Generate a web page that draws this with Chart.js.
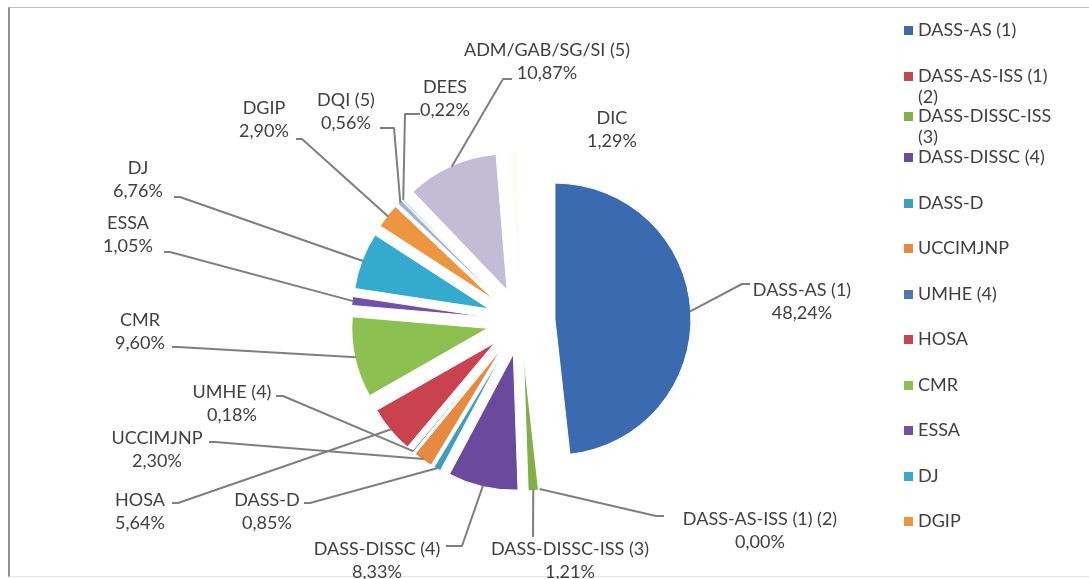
<!DOCTYPE html>
<html>
<head>
<meta charset="utf-8">
<title>Répartition par service</title>
<script src="https://cdn.jsdelivr.net/npm/chart.js@4.4.1/dist/chart.umd.min.js"></script>
<style>
  html, body { margin: 0; padding: 0; background: #fff; }
  #wrap { position: relative; width: 1089px; height: 579px; overflow: hidden; }
  #frame {
    position: absolute; left: 8px; top: 7px; width: 1200px; height: 568px;
    border-left: 2px solid #8e8e8e; border-top: 1px solid #c2c2c2; border-bottom: 1px solid #e6e6e6;
  }
  #pieChart { position: absolute; left: 0; top: 0; }
</style>
</head>
<body>
<div id="wrap">
  <div id="frame"></div>
  <canvas id="pieChart" width="1089" height="579"></canvas>
</div>
<script>
// services, in the order the slices go round (clockwise from 12 o'clock)
const services = [
    'DASS-AS (1)', 'DASS-AS-ISS (1) (2)', 'DASS-DISSC-ISS (3)', 'DASS-DISSC (4)',
    'DASS-D', 'UCCIMJNP', 'UMHE (4)', 'HOSA', 'CMR', 'ESSA', 'DJ', 'DGIP',
    'DQI (5)', 'DEES', 'ADM/GAB/SG/SI (5)', 'DIC'
];
// share of each service, in %
const shares = [48.24, 0.00, 1.21, 8.33, 0.85, 2.30, 0.18, 5.64, 9.60, 1.05, 6.76, 2.90, 0.56, 0.22, 10.87, 1.29];

const sliceColors = [
    '#3a6bb0', '#be4b48', '#7fb146', '#6a4a9c', '#3aa0bf', '#e7893e', '#4a76b6', '#c9424e',
    '#8cc152', '#7050a8', '#35aacf', '#ee9540', '#9fb2db', '#c8dfa8', '#c2bcd6', '#fdfcf8'
];

const EXPLODE = 34;      // every slice pulled out from the centre
const FONT = '18px Lato';
const LINE_H = 23;
const TEXT_COLOR = '#404040';

// where each data label sits (centre of first line) and the bend of its leader line
const labelSpots = [
    { x: 802, y: 290, leader: [[742, 284], [750, 284]] },
    { x: 760, y: 519, leader: [[656, 516], [664, 516]] },
    { x: 570, y: 549, leader: [[533, 537]] },
    { x: 377, y: 549, leader: [[462, 546], [446, 546]] },
    { x: 267, y: 500, leader: [[310, 503], [304, 503]] },
    { x: 157, y: 438, leader: [[215, 442], [209, 442]] },
    { x: 232, y: 392, leader: [[283, 396], [276, 396]] },
    { x: 140, y: 500, leader: [[178, 503], [172, 503]] },
    { x: 140, y: 320, leader: [[178, 347], [172, 347]] },
    { x: 128, y: 223, leader: [[170, 252], [164, 252]] },
    { x: 138, y: 168, leader: [[180, 197], [174, 197]] },
    { x: 264, y: 108, leader: [[302, 139], [296, 139]] },
    { x: 346, y: 100, leader: [[394, 128], [380, 128]] },
    { x: 445, y: 87,  leader: [[405, 114], [420, 114]] },
    { x: 547, y: 50,  leader: [[503, 79], [512, 79]] },
    { x: 612, y: 118, leader: null }
];

function pct(v) {
    return v.toFixed(2).replace('.', ',') + '%';
}

// draw each arc shifted out along its own mid angle
const explodedPie = {
    id: 'explodedPie',
    beforeDatasetDraw(chart, args) {
        const ctx = chart.ctx;
        args.meta.data.forEach(arc => {
            const mid = (arc.startAngle + arc.endAngle) / 2;
            ctx.save();
            ctx.translate(Math.cos(mid) * EXPLODE, Math.sin(mid) * EXPLODE);
            arc.draw(ctx);
            ctx.restore();
        });
        return false;
    }
};

// data labels with leader lines
const leaderLabels = {
    id: 'leaderLabels',
    afterDatasetsDraw(chart) {
        const ctx = chart.ctx;
        const arcs = chart.getDatasetMeta(0).data;
        ctx.save();
        ctx.strokeStyle = '#7f7f7f';
        ctx.lineWidth = 2;
        ctx.lineJoin = 'round';
        ctx.fillStyle = TEXT_COLOR;
        ctx.font = FONT;
        ctx.textAlign = 'center';
        ctx.textBaseline = 'middle';
        arcs.forEach((arc, i) => {
            const spot = labelSpots[i];
            const mid = (arc.startAngle + arc.endAngle) / 2;
            const r = arc.outerRadius + EXPLODE - 1;
            if (spot.leader) {
                ctx.beginPath();
                ctx.moveTo(arc.x + Math.cos(mid) * r, arc.y + Math.sin(mid) * r);
                spot.leader.forEach(p => ctx.lineTo(p[0], p[1]));
                ctx.stroke();
            }
            ctx.fillText(services[i], spot.x, spot.y);
            ctx.fillText(pct(shares[i]), spot.x, spot.y + LINE_H);
        });
        ctx.restore();
    }
};

// legend on the right, wrapped, cut off where the frame ends
const sideLegend = {
    id: 'sideLegend',
    afterDraw(chart) {
        const ctx = chart.ctx;
        const left = 904, textX = 918, maxW = 140, bottom = 545;
        const rowY = [30, 76, 116, 157, 203, 248, 294, 339, 385, 430, 476, 521, 566];
        ctx.save();
        ctx.font = FONT;
        ctx.textBaseline = 'middle';
        ctx.textAlign = 'left';
        for (let i = 0; i < services.length && i < rowY.length; i++) {
            const y = rowY[i];
            if (y > bottom) break;
            ctx.fillStyle = sliceColors[i];
            ctx.fillRect(left, y - 4, 9, 9);
            // simple word wrap
            const words = services[i].split(' ');
            let line = '', lines = [];
            words.forEach(w => {
                const test = line ? line + ' ' + w : w;
                if (ctx.measureText(test).width > maxW && line) {
                    lines.push(line);
                    line = w;
                } else {
                    line = test;
                }
            });
            lines.push(line);
            ctx.fillStyle = TEXT_COLOR;
            lines.forEach((l, k) => ctx.fillText(l, textX, y + k * 21));
        }
        ctx.restore();
    }
};

const ctx = document.getElementById('pieChart');
const pieChart = new Chart(ctx, {
    type: 'pie',
    data: {
        labels: services,
        datasets: [{
            data: shares,
            backgroundColor: sliceColors,
            borderColor: '#ffffff',
            borderWidth: 1
        }]
    },
    options: {
        responsive: false,
        animation: false,
        devicePixelRatio: 1,
        radius: 136,
        layout: { padding: { left: 250, right: 297, top: 171, bottom: 108 } },
        plugins: {
            legend: { display: false },
            tooltip: { enabled: false }
        }
    },
    plugins: [explodedPie, leaderLabels, sideLegend]
});
</script>
</body>
</html>
